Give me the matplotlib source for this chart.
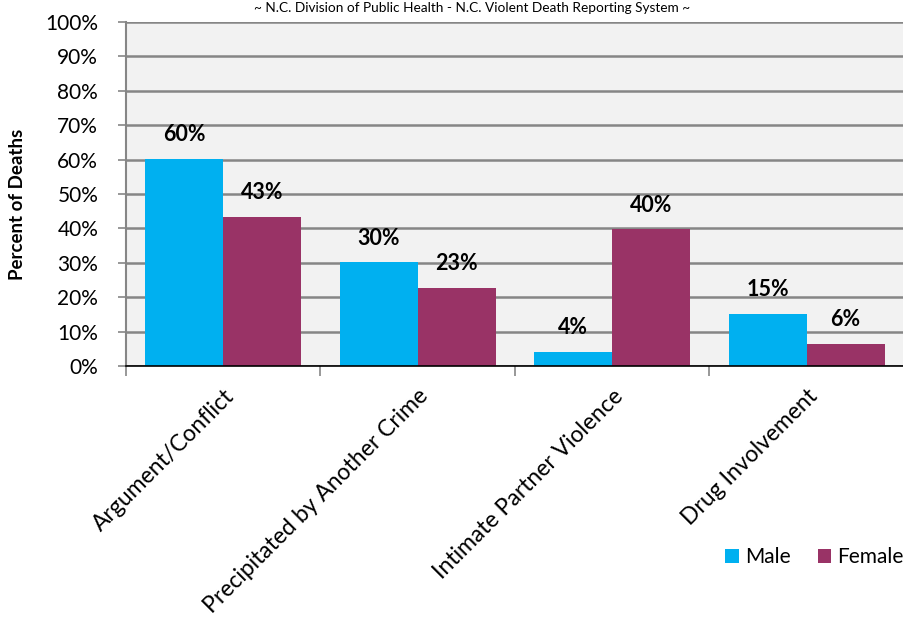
import numpy as np
import matplotlib
matplotlib.use("Agg")
import matplotlib.pyplot as plt
from matplotlib.ticker import FixedLocator

plt.rcParams["font.family"] = ["Lato", "DejaVu Sans"]

categories = ["Argument/Conflict", "Precipitated by Another Crime",
              "Intimate Partner Violence", "Drug Involvement"]
male = [60.3, 30.1, 4.0, 15.2]
female = [43.4, 22.6, 39.7, 6.4]
yticks = [0, 10, 20, 30, 40, 50, 60, 70, 80, 90, 100]

MALE_C = "#00B0F0"
FEMALE_C = "#993366"

fig = plt.figure(figsize=(9.04, 6.18), dpi=100)
ax = fig.add_axes([126 / 904, 1 - 366 / 618, 778 / 904, 344 / 618])
ax.set_facecolor("#F2F2F2")

x = np.arange(len(categories))
w = 0.4
bm = ax.bar(x - w / 2, male, w, color=MALE_C, label="Male", zorder=3)
bf = ax.bar(x + w / 2, female, w, color=FEMALE_C, label="Female", zorder=3)

for bars, vals in ((bm, male), (bf, female)):
    for b, v in zip(bars, vals):
        ax.annotate(f"{v:.0f}%", (b.get_x() + b.get_width() / 2, v),
                    xytext=(0, 10), textcoords="offset points",
                    ha="center", va="bottom", fontsize=15.5, fontweight="bold")

ax.set_xlim(-0.5, len(categories) - 0.5)
ax.set_ylim(0, 100)
ax.set_yticks(yticks)
ax.set_yticklabels([f"{t}%" for t in yticks], fontsize=15)
ax.yaxis.grid(True, color="#868686", linewidth=1.8, zorder=0)
ax.tick_params(axis="y", length=6, color="#868686", width=1.2, pad=14)

ax.set_xticks(x)
ax.set_xticklabels(categories, rotation=45, ha="right", rotation_mode="anchor",
                   fontsize=16.5)
ax.tick_params(axis="x", length=0, pad=14)
ax.xaxis.set_minor_locator(FixedLocator(np.arange(-0.5, len(categories), 1.0)))
ax.tick_params(axis="x", which="minor", length=7, color="#868686", width=1.2)

for s in ("top", "right"):
    ax.spines[s].set_visible(False)
ax.spines["left"].set_color("#868686")
ax.spines["left"].set_linewidth(1.5)
ax.spines["bottom"].set_color("black")
ax.spines["bottom"].set_linewidth(1.2)
ax.spines["bottom"].set_zorder(4)

ax.set_ylabel("Percent of Deaths", fontsize=13.5, fontweight="bold")
ax.yaxis.set_label_coords(-0.128, 0.47)

fig.text(472 / 904, 1 - 8 / 618,
         "~ N.C. Division of Public Health - N.C. Violent Death Reporting System ~",
         ha="center", va="center", fontsize=9.8)

fig.legend(handles=[bm, bf], loc="center right", bbox_to_anchor=(1.0, 1 - 557 / 618),
           ncol=2, frameon=False, fontsize=15, handlelength=0.65, handleheight=0.65,
           columnspacing=1.3, handletextpad=0.3, borderaxespad=0.0, borderpad=0.0)

fig.savefig("out.png", dpi=100)
